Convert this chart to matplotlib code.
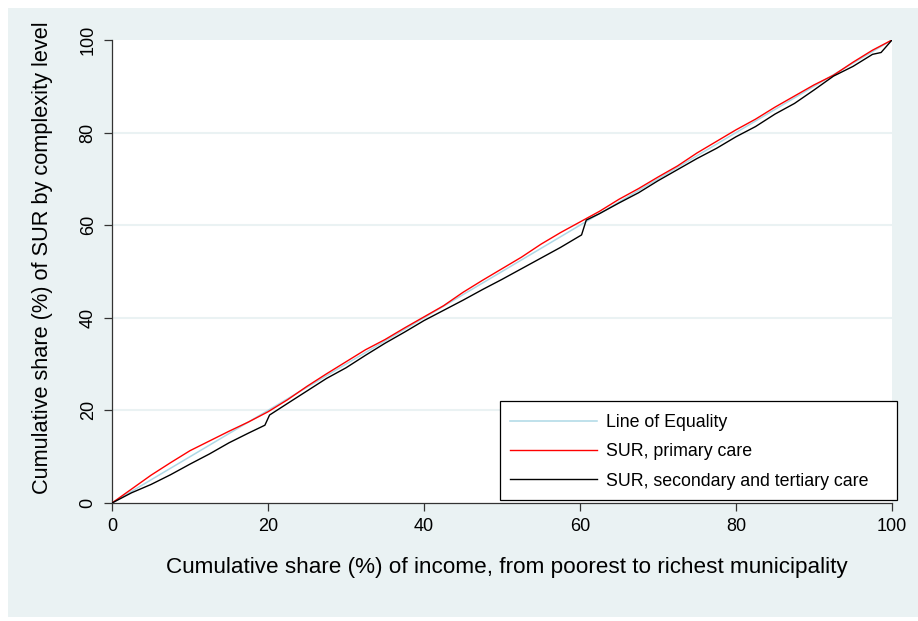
import matplotlib
matplotlib.use("Agg")
import matplotlib.pyplot as plt
from matplotlib.patches import Rectangle

# Values (cumulative %)
equality_x = [0, 100]
equality_y = [0, 100]

primary_x = [0, 2.5, 5, 7.5, 10, 12.5, 15, 17.5, 20, 22.5, 25, 27.5, 30, 32.5,
             35, 37.5, 40, 42.5, 45, 47.5, 50, 52.5, 55, 57.5, 60, 62.5, 65,
             67.5, 70, 72.5, 75, 77.5, 80, 82.5, 85, 87.5, 90, 92.5, 95, 97.5, 100]
primary_y = [0, 3.0, 6.0, 8.7, 11.3, 13.4, 15.5, 17.5, 19.7, 22.3, 25.2, 27.9,
             30.5, 33.1, 35.3, 37.8, 40.2, 42.6, 45.5, 48.1, 50.6, 53.1, 55.9,
             58.4, 60.7, 63.0, 65.6, 67.9, 70.4, 72.8, 75.6, 78.1, 80.6, 82.9,
             85.5, 87.9, 90.3, 92.4, 95.2, 97.8, 100]

sec_x = [0, 2.5, 5, 7.5, 10, 12.5, 15, 17.5, 19.6, 20.2, 22.5, 25, 27.5, 30,
         32.5, 35, 37.5, 40, 42.5, 45, 47.5, 50, 52.5, 55, 57.5, 60.2, 60.8,
         62.5, 65, 67.5, 70, 72.5, 75, 77.5, 80, 82.5, 85, 87.5, 90, 92.5, 95,
         97.5, 98.6, 100]
sec_y = [0, 2.2, 4.0, 6.1, 8.4, 10.6, 13.0, 15.1, 16.8, 19.0, 21.5, 24.2, 26.9,
         29.2, 31.9, 34.5, 36.9, 39.4, 41.6, 43.8, 46.1, 48.3, 50.6, 52.9, 55.2,
         57.9, 61.1, 62.5, 64.8, 67.0, 69.6, 72.0, 74.4, 76.6, 79.1, 81.3, 84.0,
         86.3, 89.2, 92.2, 94.3, 96.9, 97.3, 100]

ticks = [0, 20, 40, 60, 80, 100]
grid_levels = [20, 40, 60, 80]

plt.rcParams["font.family"] = ["Liberation Sans", "DejaVu Sans"]
BG = "#EAF2F3"
AXC = "#333333"
W, H = 918, 621

fig = plt.figure(figsize=(W / 100, H / 100), dpi=100, facecolor="white")
fig.patches.append(Rectangle((8 / W, 4 / H), 910 / W, 609 / H,
                             transform=fig.transFigure, facecolor=BG,
                             edgecolor="none", zorder=-10))
ax = fig.add_axes([112 / W, 118 / H, 780 / W, 463 / H])
ax.set_facecolor("white")

for g in grid_levels:
    ax.axhline(g, color=BG, lw=1.5, zorder=1)

ax.plot(equality_x, equality_y, color="#ADD8E6", lw=1.1, zorder=2,
        label="Line of Equality")
ax.plot(primary_x, primary_y, color="#FF0000", lw=1.0, zorder=3,
        label="SUR, primary care")
ax.plot(sec_x, sec_y, color="black", lw=1.0, zorder=3,
        label="SUR, secondary and tertiary care")

ax.set_xlim(0, 100); ax.set_ylim(0, 100)
ax.set_xticks(ticks); ax.set_yticks(ticks)
ax.tick_params(direction="out", length=6, width=0.9, color=AXC,
               labelsize=13, pad=5)
for lbl in ax.get_yticklabels():
    lbl.set_rotation(90); lbl.set_va("center")
for s in ["top", "right"]:
    ax.spines[s].set_visible(False)
for s in ["left", "bottom"]:
    ax.spines[s].set_color(AXC); ax.spines[s].set_linewidth(0.9)

ax.set_xlabel("Cumulative share (%) of income, from poorest to richest municipality",
              fontsize=16.2, labelpad=16)
ax.set_ylabel("Cumulative share (%) of SUR by complexity level",
              fontsize=15.7, labelpad=19)
ax.xaxis.label.set_x(0.506)
ax.yaxis.label.set_y(0.529)

# legend box (wider than its contents, as in the original)
ax.add_patch(Rectangle((500 / W, 121 / H), 397 / W, 99 / H,
                       transform=fig.transFigure, facecolor="white",
                       edgecolor="black", lw=0.9, clip_on=False, zorder=4))
leg = ax.legend(loc="center left", bbox_to_anchor=(510 / W, (H - 451.7) / H),
                bbox_transform=fig.transFigure, fontsize=12.8, frameon=False,
                handlelength=4.9, handletextpad=0.5, labelspacing=0.7,
                borderpad=0, borderaxespad=0)
leg.set_zorder(5)

fig.savefig("out.png", dpi=100, facecolor="white")
